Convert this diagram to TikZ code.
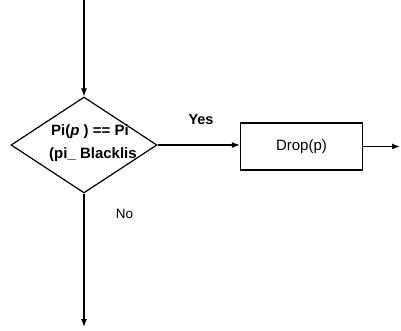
\documentclass[tikz,border=0pt]{standalone}
\usepackage{fontspec}
\setmainfont{Liberation Sans}
\usetikzlibrary{shapes.geometric,arrows.meta}
\begin{document}
\begin{tikzpicture}[x=1pt,y=-1pt,
  line width=1.2pt,
  arr/.style={-{Latex[length=8pt,width=6pt]}},
  decision/.style={diamond,draw,inner sep=0pt,minimum width=146pt,minimum height=96pt},
  proc/.style={rectangle,draw,minimum width=122pt,minimum height=47pt,font=\fontsize{15}{17}\selectfont},
  lbl/.style={font=\fontsize{14.5}{17}\selectfont\bfseries,inner sep=0pt}]
\useasboundingbox (0,0) rectangle (401,330);
\coordinate (top) at (84,0);
\coordinate (bot) at (84,327);
\coordinate (out) at (400,146);
\node[decision] (dec) at (84,145) {};
\node[lbl,font=\fontsize{15}{17}\selectfont\bfseries] (t1) at (90,132) {Pi(\textit{p} ) == Pi};
\node[lbl,font=\fontsize{15}{17}\selectfont\bfseries] (t2) at (93,155) {(pi\_ Blacklis};
\node[proc] (drop) at (301.5,146.5) {Drop(p)};
\node[lbl] (yes) at (201,120) {Yes};
\node[lbl,font=\fontsize{13.5}{16}\selectfont] (no) at (124.5,214) {No};
\draw[arr] (top) -- (dec.north);
\draw[arr] (dec.south) -- (bot);
\draw[arr] (dec.east) -- (dec.east -| drop.west);
\draw[arr] (drop.east) -- (drop.east -| out);
\end{tikzpicture}
\end{document}
